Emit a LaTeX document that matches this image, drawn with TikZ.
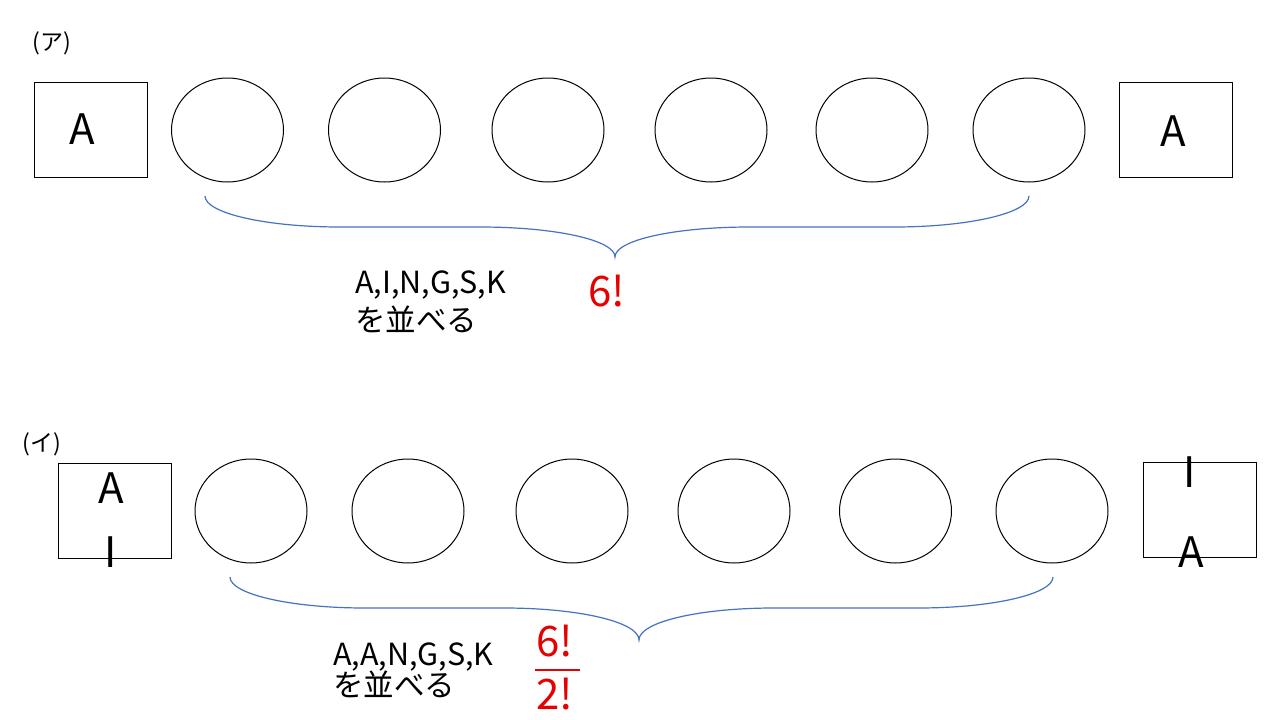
\documentclass[tikz,border=0pt]{standalone}
\usepackage{fontspec}
\setmainfont{Noto Sans CJK JP}
\usetikzlibrary{shapes.geometric}
\definecolor{bracecol}{HTML}{4472C4}
\definecolor{redtxt}{HTML}{E60000}
\tikzset{
  slotbox/.style={draw=black, line width=1pt, rectangle, minimum width=113pt, minimum height=95pt, inner sep=0pt},
  slotcirc/.style={draw=black, line width=1pt, ellipse, minimum width=112pt, minimum height=104pt, inner sep=0pt},
  letter/.style={inner sep=0pt, font=\fontsize{42}{48}\selectfont},
  label/.style={inner sep=0pt, anchor=base west, font=\fontsize{30.5}{36}\selectfont},
  redlab/.style={inner sep=0pt, text=redtxt, font=\fontsize{42}{48}\selectfont},
  part/.style={inner sep=0pt, font=\fontsize{23}{28}\selectfont},
  bracestyle/.style={draw=bracecol, line width=1.2pt}
}
\begin{document}
\begin{tikzpicture}[x=1pt, y=-1pt]
\useasboundingbox (0,0) rectangle (1280,720);
\fill[white] (0,0) rectangle (1280,720);

% ---------- (ア) ----------
\node[part] (pa) at (52,43) {(ア)};
\node[slotbox] (ba1) at (90.5,130) {};
\node[letter] (la1) at (82,129) {A};
\node[slotcirc] (ca1) at (227.5,130) {};
\node[slotcirc] (ca2) at (384.5,130) {};
\node[slotcirc] (ca3) at (548,130) {};
\node[slotcirc] (ca4) at (711,130) {};
\node[slotcirc] (ca5) at (872,130) {};
\node[slotcirc] (ca6) at (1029,130) {};
\node[slotbox] (ba2) at (1175.5,129.5) {};
\node[letter] (la2) at (1173,131) {A};

\coordinate (bra1) at (205,196);
\coordinate (bra2) at (615,257);
\coordinate (bra3) at (1029,196);
\draw[bracestyle] (bra1) .. controls (205,213) and (265,227) .. (340,227)
  -- (480,227) .. controls (555,227) and (615,240) .. (bra2)
  .. controls (615,240) and (675,227) .. (750,227)
  -- (894,227) .. controls (969,227) and (1029,213) .. (bra3);

\node[label] (ta1) at (355,293) {A,I,N,G,S,K};
\node[label] (ta2) at (355,331) {を並べる};
\node[redlab] (fa) at (607,291) {6!};

% ---------- (イ) ----------
\node[part] (pb) at (42,444) {(イ)};
\node[slotbox] (bb1) at (114.5,510.5) {};
\node[letter] (lb1) at (111,488) {A};
\node[letter] (lb2) at (111,552) {I};
\node[slotcirc] (cb1) at (251,511) {};
\node[slotcirc] (cb2) at (408,511) {};
\node[slotcirc] (cb3) at (572,511) {};
\node[slotcirc] (cb4) at (734,511) {};
\node[slotcirc] (cb5) at (895.5,511) {};
\node[slotcirc] (cb6) at (1052,511) {};
\node[slotbox] (bb2) at (1199.5,509.5) {};
\node[letter] (lb3) at (1190,472) {I};
\node[letter] (lb4) at (1191,552) {A};

\coordinate (brb1) at (230,577);
\coordinate (brb2) at (639,640);
\coordinate (brb3) at (1053,577);
\draw[bracestyle] (brb1) .. controls (230,594) and (290,608) .. (365,608)
  -- (504,608) .. controls (579,608) and (639,622) .. (brb2)
  .. controls (639,622) and (699,608) .. (774,608)
  -- (918,608) .. controls (993,608) and (1053,594) .. (brb3);

\node[label] (tb1) at (333,665) {A,A,N,G,S,K};
\node[label] (tb2) at (333,696) {を並べる};
\node[redlab] (fb1) at (555,641) {6!};
\node[redlab] (fb2) at (555,694) {2!};
\coordinate (barl) at (535,670);
\coordinate (barr) at (580,670);
\draw[draw=redtxt, line width=1.5pt] (barl) -- (barr);
\end{tikzpicture}
\end{document}
